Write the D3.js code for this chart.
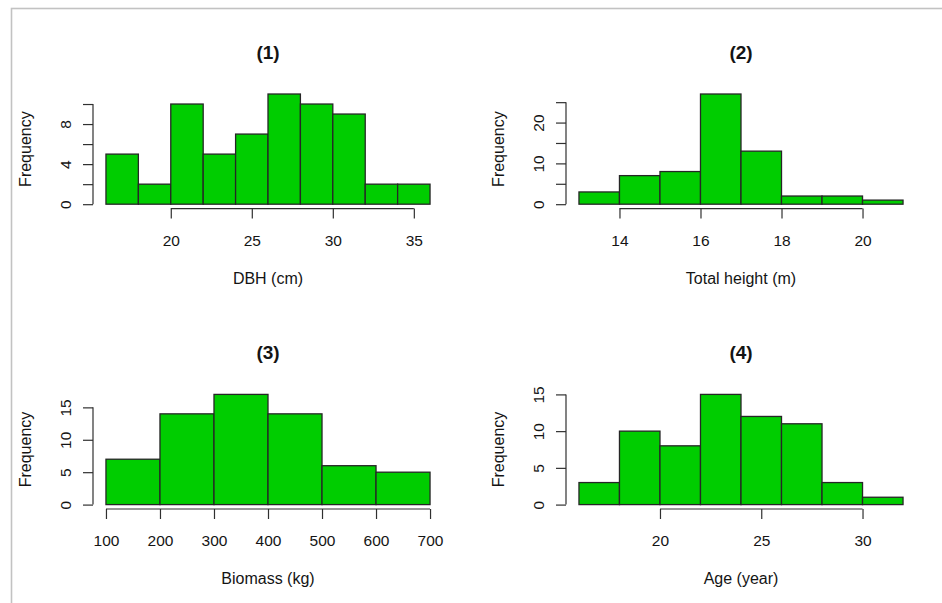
<!DOCTYPE html>
<html>
<head>
<meta charset="utf-8">
<script src="https://cdn.jsdelivr.net/npm/d3@7"></script>
<style>
  body { margin: 0; background: #fff; }
  svg text { font-family: "Liberation Sans", Arial, sans-serif; fill: #141414; }
  .tick line, .domain { stroke: #303030; stroke-width: 1.2; }
  .bar { fill: #00cd00; stroke: #262626; stroke-width: 1.3; }
</style>
</head>
<body>
<script>
// histogram breaks and counts
const dbhBreaks = [16, 18, 20, 22, 24, 26, 28, 30, 32, 34, 36];
const dbhCounts = [5, 2, 10, 5, 7, 11, 10, 9, 2, 2];
const heightBreaks = [13, 14, 15, 16, 17, 18, 19, 20, 21];
const heightCounts = [3, 7, 8, 27, 13, 2, 2, 1];
const biomassBreaks = [100, 200, 300, 400, 500, 600, 700];
const biomassCounts = [7, 14, 17, 14, 6, 5];
const ageBreaks = [16, 18, 20, 22, 24, 26, 28, 30, 32];
const ageCounts = [3, 10, 8, 15, 12, 11, 3, 1];

// axis ticks (R drops some y labels where they would overlap)
const dbhXTicks = [20, 25, 30, 35];
const heightXTicks = [14, 16, 18, 20];
const biomassXTicks = [100, 200, 300, 400, 500, 600, 700];
const ageXTicks = [20, 25, 30];
const dbhYTicks = [0, 2, 4, 6, 8, 10];
const dbhYLabels = [0, 4, 8];
const heightYTicks = [0, 5, 10, 15, 20, 25];
const heightYLabels = [0, 10, 20];
const biomassYTicks = [0, 5, 10, 15];
const ageYTicks = [0, 5, 10, 15];

const titles = ["(1)", "(2)", "(3)", "(4)"];
const xTitles = ["DBH (cm)", "Total height (m)", "Biomass (kg)", "Age (year)"];

const w = 942, h = 603;
const pw = 350;   // plot region width
const ph = 119;   // plot region height
const lefts = [93, 566];
const tops = [89.6, 390];
const tickLen = 10;

const svg = d3.select("body").append("svg")
  .attr("width", w)
  .attr("height", h);

// grey frame of the image
svg.append("rect")
  .attr("x", 11.5).attr("y", 8.5)
  .attr("width", w).attr("height", h)
  .attr("fill", "none")
  .attr("stroke", "#c2c2c2")
  .attr("stroke-width", 1.6);

const panels = [
  { breaks: dbhBreaks, counts: dbhCounts, xt: dbhXTicks, yt: dbhYTicks, yl: dbhYLabels },
  { breaks: heightBreaks, counts: heightCounts, xt: heightXTicks, yt: heightYTicks, yl: heightYLabels },
  { breaks: biomassBreaks, counts: biomassCounts, xt: biomassXTicks, yt: biomassYTicks, yl: biomassYTicks },
  { breaks: ageBreaks, counts: ageCounts, xt: ageXTicks, yt: ageYTicks, yl: ageYTicks }
];

panels.forEach((p, i) => {
  const left = lefts[i % 2];
  const top = tops[Math.floor(i / 2)];
  const bottom = top + ph;

  // R style: range extended by 4% on each side
  const x0 = p.breaks[0], x1 = p.breaks[p.breaks.length - 1];
  const xpad = 0.04 * (x1 - x0);
  const ymax = d3.max(p.counts);
  const x = d3.scaleLinear().domain([x0 - xpad, x1 + xpad]).range([left, left + pw]);
  const y = d3.scaleLinear().domain([-0.04 * ymax, 1.04 * ymax]).range([bottom, top]);

  const bins = p.counts.map((c, j) => ({ a: p.breaks[j], b: p.breaks[j + 1], c: c }));

  svg.append("g").selectAll("rect")
    .data(bins)
    .enter()
    .append("rect")
    .attr("class", "bar")
    .attr("x", d => x(d.a))
    .attr("y", d => y(d.c))
    .attr("width", d => x(d.b) - x(d.a))
    .attr("height", d => y(0) - y(d.c));

  // x axis, line only from first to last tick
  const gx = svg.append("g")
    .attr("transform", "translate(0," + bottom + ")")
    .call(d3.axisBottom(x).tickValues(p.xt).tickSize(tickLen).tickSizeOuter(0).tickPadding(16));
  gx.select(".domain").attr("d", "M" + x(p.xt[0]) + ",0H" + x(p.xt[p.xt.length - 1]));
  gx.selectAll("text").style("font-size", "15.5px").attr("fill", null);

  // y axis with rotated labels
  const gy = svg.append("g")
    .attr("transform", "translate(" + left + ",0)")
    .call(d3.axisLeft(y).tickValues(p.yt).tickSize(tickLen).tickSizeOuter(0)
      .tickFormat(v => p.yl.indexOf(v) >= 0 ? v : ""));
  gy.select(".domain").attr("d", "M0," + y(p.yt[0]) + "V" + y(p.yt[p.yt.length - 1]));
  gy.selectAll("text")
    .attr("x", 0).attr("y", -22.5).attr("dy", null)
    .attr("transform", "rotate(-90)")
    .attr("text-anchor", "middle")
    .attr("fill", null)
    .style("font-size", "15.5px");

  // titles
  svg.append("text")
    .text(titles[i])
    .attr("x", left + pw / 2)
    .attr("y", top - 31)
    .attr("text-anchor", "middle")
    .style("font-size", "19px")
    .style("font-weight", "bold");

  svg.append("text")
    .text(xTitles[i])
    .attr("x", left + pw / 2)
    .attr("y", bottom + 75)
    .attr("text-anchor", "middle")
    .style("font-size", "16px");

  svg.append("text")
    .text("Frequency")
    .attr("transform", "translate(" + (left - 62) + "," + (top + ph / 2) + ") rotate(-90)")
    .attr("text-anchor", "middle")
    .style("font-size", "16px");
});
</script>
</body>
</html>
